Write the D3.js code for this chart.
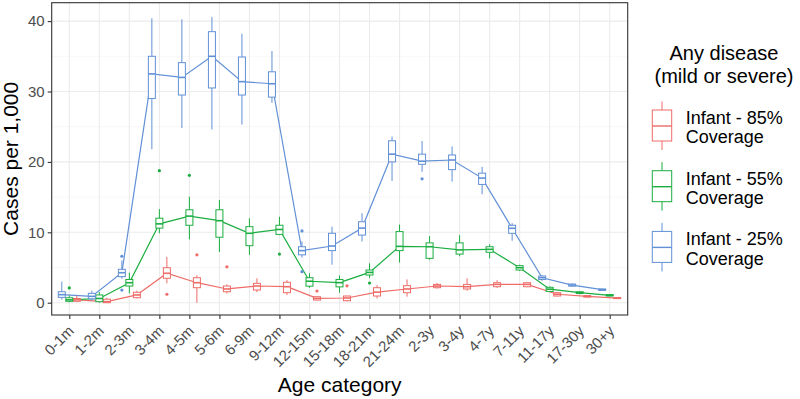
<!DOCTYPE html>
<html>
<head>
<meta charset="utf-8">
<script src="https://cdn.jsdelivr.net/npm/d3@7/dist/d3.min.js"></script>
<style>
  body { margin: 0; background: #fff; }
  svg { display: block; font-family: "Liberation Sans", Arial, sans-serif; }
</style>
</head>
<body>
<svg id="chart" width="800" height="399"></svg>
<script>
const categories = ["0-1m","1-2m","2-3m","3-4m","4-5m","5-6m","6-9m","9-12m","12-15m","15-18m","18-21m","21-24m","2-3y","3-4y","4-7y","7-11y","11-17y","17-30y","30+y"];
const yTicks = [0, 10, 20, 30, 40];
const seriesNames = ["Infant - 85%\nCoverage", "Infant - 55%\nCoverage", "Infant - 25%\nCoverage"];

// Infant - 85% coverage (red)
const red_med = [0.4,0.15,1.1,4.18,2.84,1.95,2.37,2.27,0.62,0.67,1.5,1.95,2.37,2.27,2.6,2.6,1.2,0.9,0.65];
const red_q1  = [0.2,0.0,0.71,3.47,2.13,1.56,1.8,1.42,0.38,0.28,0.95,1.42,2.13,1.95,2.27,2.27,0.95,0.8,0.58];
const red_q3  = [0.6,0.5,1.48,4.97,3.55,2.37,2.75,2.9,0.85,0.95,2.13,2.42,2.6,2.6,2.84,2.84,1.42,1.0,0.72];
const red_lo  = [0.1,0.0,0.6,2.75,0.0,1.3,1.5,1.1,0.3,0.2,0.6,0.85,2.0,1.7,2.1,2.2,0.9,0.75,0.55];
const red_hi  = [1.0,0.7,1.7,6.5,3.9,2.6,3.47,3.2,0.9,1.0,2.5,3.3,2.8,3.46,3.2,2.9,1.5,1.05,0.75];
const red_out = [[],[],[],[1.2],[6.8],[5.1],[],[],[1.66],[2.4],[],[],[],[],[],[],[],[],[]];

// Infant - 55% coverage (green)
const green_med = [0.4,0.6,2.84,11.2,12.3,11.65,9.86,10.4,3.05,2.85,4.3,8.0,7.95,7.5,7.58,4.97,1.92,1.42,1.05];
const green_q1  = [0.2,0.14,2.37,10.6,11.0,9.3,8.1,9.7,2.35,2.25,3.93,7.4,6.3,6.9,7.16,4.64,1.6,1.3,0.95];
const green_q3  = [0.7,1.1,3.3,12.0,13.2,13.2,10.8,11.0,3.55,3.3,4.64,10.1,8.5,8.5,7.95,5.26,2.19,1.55,1.15];
const green_lo  = [0.05,0.0,1.33,9.86,9.0,7.2,6.8,9.6,2.1,1.42,3.5,5.7,6.1,6.6,6.3,4.5,1.5,1.2,0.9];
const green_hi  = [1.0,1.5,4.26,13.3,15.06,14.6,12.0,12.2,4.18,3.87,5.6,11.1,9.47,9.6,8.3,5.4,2.3,1.6,1.2];
const green_out = [[2.1],[],[],[18.75],[18.1],[],[],[6.9],[],[],[2.8],[],[],[],[],[],[],[],[]];

// Infant - 25% coverage (blue)
const blue_med = [1.14,0.9,4.26,32.5,32.0,35.0,31.4,31.1,7.4,8.05,10.6,21.1,20.1,20.27,17.7,10.57,3.55,2.5,1.85];
const blue_q1  = [0.76,0.55,3.7,29.0,29.5,30.5,29.5,29.2,6.8,7.4,9.6,20.0,19.66,18.9,16.8,9.86,3.3,2.35,1.75];
const blue_q3  = [1.56,1.33,4.74,35.0,34.1,38.5,34.9,32.8,7.95,9.86,11.5,23.0,21.1,20.98,18.4,11.0,3.79,2.65,1.95];
const blue_lo  = [0.45,0.3,3.4,21.8,24.8,24.6,25.3,28.4,6.4,5.4,8.7,17.3,18.6,17.2,15.4,8.8,3.1,2.25,1.7];
const blue_hi  = [3.0,1.7,6.0,40.4,40.25,40.6,38.2,35.75,8.7,10.8,12.7,23.6,22.97,22.2,19.3,11.3,3.9,2.75,2.0];
const blue_out = [[],[],[6.6,1.8],[],[],[],[],[],[10.2,4.4],[],[],[],[17.6],[],[],[],[],[],[]];

const colors = ["#EE6B67", "#1AAD3F", "#6190D6"];

const series = [
  {name: seriesNames[0], color: colors[0], offset: 7.5, med: red_med, q1: red_q1, q3: red_q3, lo: red_lo, hi: red_hi, out: red_out},
  {name: seriesNames[1], color: colors[1], offset: 0, med: green_med, q1: green_q1, q3: green_q3, lo: green_lo, hi: green_hi, out: green_out},
  {name: seriesNames[2], color: colors[2], offset: -7.5, med: blue_med, q1: blue_q1, q3: blue_q3, lo: blue_lo, hi: blue_hi, out: blue_out}
];

const svg = d3.select("#chart");
const panel = {left: 51.7, right: 627.7, top: 2.7, bottom: 315};

const x = d3.scalePoint().domain(categories).range([69.3, 609.7]);
const y = d3.scaleLinear().domain([0, 40]).range([302.7, 21.1]);

// panel background
svg.append("rect").attr("x", panel.left).attr("y", panel.top)
  .attr("width", panel.right - panel.left).attr("height", panel.bottom - panel.top)
  .attr("fill", "#fff");

const grid = svg.append("g");
// minor y grid
d3.range(5, 45, 10).forEach(v => {
  grid.append("line").attr("x1", panel.left).attr("x2", panel.right)
    .attr("y1", y(v)).attr("y2", y(v)).attr("stroke", "#F2F2F2").attr("stroke-width", 0.6);
});
yTicks.forEach(v => {
  grid.append("line").attr("x1", panel.left).attr("x2", panel.right)
    .attr("y1", y(v)).attr("y2", y(v)).attr("stroke", "#EBEBEB").attr("stroke-width", 1.1);
});
categories.forEach(c => {
  grid.append("line").attr("y1", panel.top).attr("y2", panel.bottom)
    .attr("x1", x(c)).attr("x2", x(c)).attr("stroke", "#EBEBEB").attr("stroke-width", 1.1);
});

const boxW = 7;

// lines
series.forEach(s => {
  const line = d3.line().x((d, i) => x(categories[i]) + s.offset).y(d => y(d));
  svg.append("path").datum(s.med).attr("d", line)
    .attr("fill", "none").attr("stroke", s.color).attr("stroke-width", 1.2);
});

// boxes
series.forEach(s => {
  const g = svg.append("g");
  categories.forEach((c, i) => {
    const cx = x(c) + s.offset;
    g.append("line").attr("x1", cx).attr("x2", cx).attr("y1", y(s.hi[i])).attr("y2", y(s.q3[i]))
      .attr("stroke", s.color).attr("stroke-width", 1);
    g.append("line").attr("x1", cx).attr("x2", cx).attr("y1", y(s.q1[i])).attr("y2", y(s.lo[i]))
      .attr("stroke", s.color).attr("stroke-width", 1);
    g.append("rect").attr("x", cx - boxW / 2).attr("width", boxW)
      .attr("y", y(s.q3[i])).attr("height", Math.max(0.5, y(s.q1[i]) - y(s.q3[i])))
      .attr("fill", "#fff").attr("stroke", s.color).attr("stroke-width", 1);
    g.append("line").attr("x1", cx - boxW / 2).attr("x2", cx + boxW / 2)
      .attr("y1", y(s.med[i])).attr("y2", y(s.med[i]))
      .attr("stroke", s.color).attr("stroke-width", 1.6);
    s.out[i].forEach(v => {
      g.append("circle").attr("cx", cx).attr("cy", y(v)).attr("r", 1.6).attr("fill", s.color);
    });
  });
});

// panel border
svg.append("rect").attr("x", panel.left).attr("y", panel.top)
  .attr("width", panel.right - panel.left).attr("height", panel.bottom - panel.top)
  .attr("fill", "none").attr("stroke", "#333333").attr("stroke-width", 1.1);

// y axis
const yAxis = d3.axisLeft(y).tickValues(yTicks).tickSize(4).tickPadding(3).tickFormat(d3.format("d"));
const ya = svg.append("g").attr("transform", `translate(${panel.left},0)`).call(yAxis);
ya.select(".domain").remove();
ya.selectAll(".tick line").attr("stroke", "#333333").attr("stroke-width", 1.1);
ya.selectAll(".tick text").attr("fill", "#4D4D4D").style("font-size", "15px")
  .style("font-family", "Liberation Sans, Arial, sans-serif");

// x axis
const xAxis = d3.axisBottom(x).tickSize(4).tickPadding(2);
const xa = svg.append("g").attr("transform", `translate(0,${panel.bottom})`).call(xAxis);
xa.select(".domain").remove();
xa.selectAll(".tick line").attr("stroke", "#333333").attr("stroke-width", 1.1);
xa.selectAll(".tick text").attr("fill", "#4D4D4D").style("font-size", "15px")
  .style("font-family", "Liberation Sans, Arial, sans-serif")
  .attr("text-anchor", "end").attr("dy", null).attr("y", null)
  .attr("transform", "translate(5,17) rotate(-45)");

// axis titles
svg.append("text").attr("x", (panel.left + panel.right) / 2).attr("y", 391.5)
  .attr("text-anchor", "middle").style("font-size", "21px").attr("fill", "#000")
  .text("Age category");
svg.append("text").attr("transform", `translate(17.5,${(panel.top + panel.bottom) / 2}) rotate(-90)`)
  .attr("text-anchor", "middle").style("font-size", "21px").attr("fill", "#000")
  .text("Cases per 1,000");

// legend
const lg = svg.append("g");
lg.append("text").attr("x", 724).attr("y", 60).attr("text-anchor", "middle")
  .style("font-size", "20px").text("Any disease");
lg.append("text").attr("x", 724).attr("y", 83.3).attr("text-anchor", "middle")
  .style("font-size", "20px").text("(mild or severe)");

series.forEach((s, k) => {
  const my = 126 + k * 60.7;
  const kx = 662;
  const g = lg.append("g");
  g.append("line").attr("x1", kx).attr("x2", kx).attr("y1", my - 24.5).attr("y2", my + 24)
    .attr("stroke", s.color).attr("stroke-width", 1);
  g.append("rect").attr("x", kx - 9.7).attr("width", 19.4).attr("y", my - 16).attr("height", 31)
    .attr("fill", "#fff").attr("stroke", s.color).attr("stroke-width", 1);
  g.append("line").attr("x1", kx - 9.7).attr("x2", kx + 9.7).attr("y1", my).attr("y2", my)
    .attr("stroke", s.color).attr("stroke-width", 1.4);
  const lines = s.name.split("\n");
  g.append("text").attr("x", 685.7).attr("y", my - 2).style("font-size", "18px").text(lines[0]);
  g.append("text").attr("x", 685.7).attr("y", my + 17.3).style("font-size", "18px").text(lines[1]);
});
</script>
</body>
</html>
